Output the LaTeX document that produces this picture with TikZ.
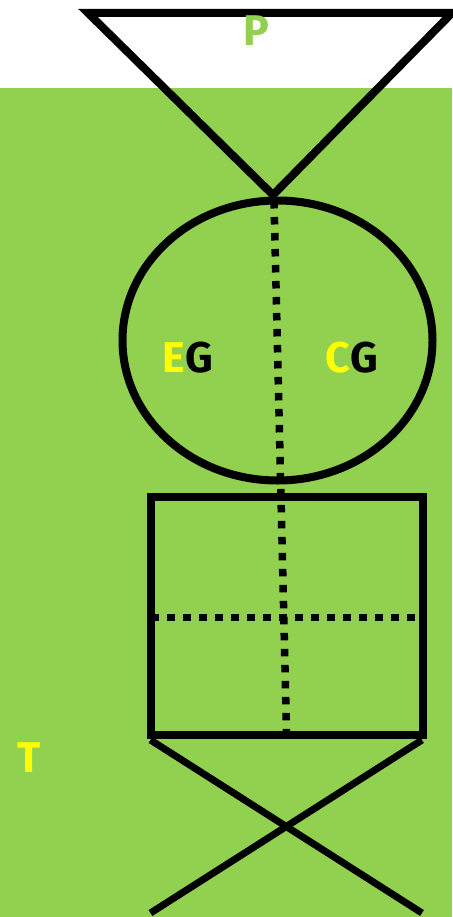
\documentclass[tikz,border=0pt]{standalone}
\usepackage{fontspec}
\setmainfont{Fira Sans}
\definecolor{bggreen}{HTML}{92D050}
\definecolor{yel}{HTML}{FFFF00}
\begin{document}
\begin{tikzpicture}[x=1pt,y=-1pt,
  outline/.style={draw=black,line width=8pt},
  dotline/.style={draw=black,line width=7.5pt,dash pattern=on 7.5pt off 8.5pt},
  lbl/.style={font=\fontsize{43}{43}\selectfont\bfseries,inner sep=0pt}]
\useasboundingbox (0,0) rectangle (452,917);
\fill[white] (0,0) rectangle (452,917);
\fill[bggreen] (0,88) rectangle (452,917);
% triangle
\draw[outline,line join=miter] (88,13) -- (452,13) -- (273,195) -- cycle;
% ellipse
\draw[outline] (277.5,340.5) ellipse [x radius=155, y radius=140];
% square
\draw[outline] (150.5,497) rectangle (423,734.5);
% dotted lines
\coordinate (vt) at (274,201);
\coordinate (vb) at (286.5,731);
\draw[dotline] (vt) -- (vb);
\coordinate (hl) at (151,617.5);
\coordinate (hr) at (418,617.5);
\draw[dotline] (hl) -- (hr);
% X legs
\coordinate (xtl) at (150.5,740);
\coordinate (xtr) at (422,740);
\coordinate (xbl) at (150.5,913);
\coordinate (xbr) at (422,913);
\draw[outline,line width=7pt] (xtl) -- (xbr);
\draw[outline,line width=7pt] (xtr) -- (xbl);
% labels
\node[lbl,text=bggreen] (p) at (256,31) {P};
\node[lbl] (eg) at (188,358) {\textcolor{yel}{E}G};
\node[lbl] (cg) at (352,358) {\textcolor{yel}{C}G};
\node[lbl,text=yel] (t) at (29,758) {T};
\end{tikzpicture}
\end{document}
